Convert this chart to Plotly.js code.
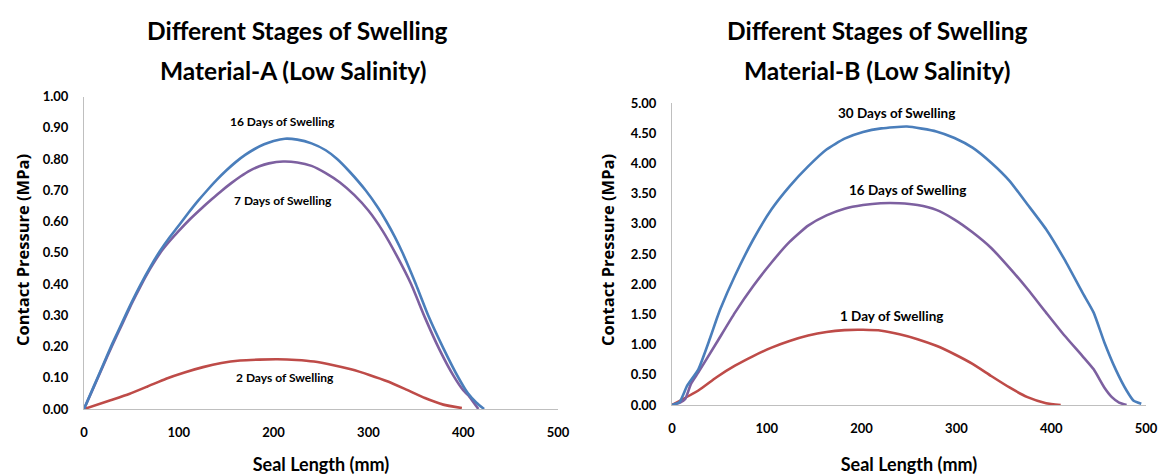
<!DOCTYPE html>
<html>
<head>
<meta charset="utf-8">
<script src="https://cdn.plot.ly/plotly-3.0.1.min.js"></script>
<style>
html,body{margin:0;padding:0;background:#fff;}
#chart{width:1161px;height:475px;}
</style>
</head>
<body>
<div id="chart"></div>
<script>
// ---------- Data: Material-A ----------
const a16x = [0, 10, 20, 30, 40, 50, 60, 70, 80, 90, 100, 110, 120, 130, 140, 150, 160, 170, 180, 190, 200, 212, 225, 240, 255, 267, 280, 297, 310, 319, 328, 336, 350, 363, 379, 395, 405, 414, 422];
const a16y = [0, 0.07, 0.14, 0.21, 0.275, 0.34, 0.40, 0.455, 0.505, 0.548, 0.587, 0.627, 0.665, 0.70, 0.733, 0.763, 0.79, 0.813, 0.832, 0.847, 0.858, 0.865, 0.862, 0.85, 0.828, 0.80, 0.76, 0.70, 0.645, 0.60, 0.55, 0.50, 0.40, 0.30, 0.195, 0.10, 0.05, 0.02, 0];
const a7x = [0, 10, 20, 30, 40, 50, 60, 70, 80, 90, 100, 112, 125, 135, 145, 155, 165, 175, 185, 195, 210, 225, 240, 255, 270, 285, 300, 315, 330, 345, 360, 375, 390, 400, 405, 410, 416];
const a7y = [0, 0.068, 0.137, 0.205, 0.27, 0.335, 0.395, 0.45, 0.498, 0.536, 0.57, 0.608, 0.645, 0.672, 0.698, 0.722, 0.744, 0.763, 0.777, 0.786, 0.792, 0.789, 0.778, 0.755, 0.725, 0.685, 0.635, 0.57, 0.49, 0.40, 0.29, 0.19, 0.105, 0.06, 0.045, 0.025, 0];
const a2x = [0, 28, 47.6, 67, 86.6, 106, 125.6, 145, 164.6, 185, 204, 224, 242.6, 262, 281.6, 301, 320.6, 340, 359.6, 379, 398.6];
const a2y = [0, 0.028, 0.048, 0.072, 0.097, 0.117, 0.134, 0.147, 0.155, 0.158, 0.159, 0.157, 0.152, 0.141, 0.127, 0.109, 0.088, 0.062, 0.035, 0.014, 0.003];

// ---------- Data: Material-B ----------
const b30x = [0, 8, 16, 27.8, 40, 47, 51, 66.4, 85.7, 105, 124, 143.6, 163, 182, 201.5, 220.8, 247.9, 278.8, 298, 317, 336.7, 356, 375, 394.6, 414, 433, 444.8, 456, 468, 479.5, 487, 495];
const b30y = [0, 0.05, 0.32, 0.59, 1.1, 1.42, 1.59, 2.14, 2.74, 3.24, 3.62, 3.95, 4.23, 4.41, 4.52, 4.58, 4.61, 4.53, 4.42, 4.26, 4.01, 3.71, 3.32, 2.91, 2.41, 1.86, 1.53, 1.04, 0.59, 0.24, 0.07, 0.02];
const b16x = [0, 8.5, 14, 20, 27.8, 47, 66.4, 85.7, 105, 124, 143.6, 163, 182, 201.5, 220, 240, 259, 278.8, 298, 317, 336.7, 356, 375, 394.6, 414, 433, 444.8, 456, 464, 471.6, 479.5];
const b16y = [0, 0.04, 0.1, 0.35, 0.54, 1.03, 1.53, 1.97, 2.36, 2.70, 2.97, 3.14, 3.25, 3.31, 3.34, 3.34, 3.31, 3.23, 3.07, 2.86, 2.60, 2.27, 1.92, 1.53, 1.15, 0.81, 0.59, 0.29, 0.13, 0.04, 0];
const b1x = [0, 27.8, 47, 66.4, 85.7, 105, 124, 143.6, 163, 182, 201.5, 221, 240, 259, 278.8, 298, 317, 336.7, 356, 375, 394.6, 410];
const b1y = [0, 0.24, 0.46, 0.65, 0.81, 0.95, 1.06, 1.15, 1.21, 1.24, 1.245, 1.23, 1.17, 1.09, 0.98, 0.84, 0.68, 0.48, 0.29, 0.13, 0.03, 0];

// ---------- Labels ----------
const titleLine1 = "Different Stages of Swelling";
const titleA2 = "Material-A (Low Salinity)";
const titleB2 = "Material-B (Low Salinity)";
const xTitle = "Seal Length (mm)";
const yTitle = "Contact Pressure (MPa)";
const xTicks = [0, 100, 200, 300, 400, 500];
const yTicksA = [0, 0.1, 0.2, 0.3, 0.4, 0.5, 0.6, 0.7, 0.8, 0.9, 1.0];
const yTicksB = [0, 0.5, 1, 1.5, 2, 2.5, 3, 3.5, 4, 4.5, 5];
const labelsA = ["16 Days of Swelling", "7 Days of Swelling", "2 Days of Swelling"];
const labelsAx = [209, 210, 212];
const labelsAy = [0.92, 0.668, 0.102];
const labelsB = ["30 Days of Swelling", "16 Days of Swelling", "1 Day of Swelling"];
const labelsBx = [237, 248, 232];
const labelsBy = [4.83, 3.56, 1.47];

const BLUE = "#4A7EBB", PURPLE = "#7D60A0", RED = "#BE4B48";
const FONT = "Lato, 'Open Sans', sans-serif";
const W = 1161, H = 475;

function tr(x, y, c, xa, ya) {
  return {x: x, y: y, type: "scatter", mode: "lines", xaxis: xa, yaxis: ya,
    line: {color: c, width: 2.6, shape: "spline", smoothing: 0.5}, hoverinfo: "skip", showlegend: false};
}

const data = [
  tr(a2x, a2y, RED, "x", "y"),
  tr(a7x, a7y, PURPLE, "x", "y"),
  tr(a16x, a16y, BLUE, "x", "y"),
  tr(b1x, b1y, RED, "x2", "y2"),
  tr(b16x, b16y, PURPLE, "x2", "y2"),
  tr(b30x, b30y, BLUE, "x2", "y2")
];

const axX = {
  range: [0, 500], tickvals: xTicks, showgrid: false, zeroline: false,
  showline: true, linecolor: "#BFBFBF", linewidth: 1, ticks: "",
  tickfont: {family: FONT, size: 13, color: "#000", weight: "bold"}, ticklabelstandoff: 11,
  title: {text: xTitle, font: {family: FONT, size: 18, color: "#000", weight: "bold"}, standoff: 24}
};
const axY = {
  showgrid: false, zeroline: false, showline: true, linecolor: "#BFBFBF", linewidth: 1, ticks: "",
  tickfont: {family: FONT, size: 13, color: "#000", weight: "bold"}, ticklabelstandoff: 12,
  tickformat: ".2f"
};

const annotations = [];
labelsA.forEach((t, i) => annotations.push({x: labelsAx[i], y: labelsAy[i], xref: "x", yref: "y", text: t, showarrow: false,
  font: {family: FONT, size: 12, color: "#000", weight: "bold"}}));
labelsB.forEach((t, i) => annotations.push({x: labelsBx[i], y: labelsBy[i], xref: "x2", yref: "y2", text: t, showarrow: false,
  font: {family: FONT, size: 13.5, color: "#000", weight: "bold"}}));

function paperText(text, px, py, size, fam, angle) {
  annotations.push({x: px / W, y: 1 - py / H, xref: "paper", yref: "paper", xanchor: "center", yanchor: "middle",
    text: text, showarrow: false, textangle: angle || 0,
    font: {family: fam, size: size, color: "#000", weight: "bold"}});
}
paperText(titleLine1, 297, 31, 24.5, FONT);
paperText(titleA2, 293, 70, 24.5, FONT);
paperText(titleLine1, 877, 31, 24.5, FONT);
paperText(titleB2, 877, 70, 24.5, FONT);
paperText(yTitle, 22, 250, 16.5, "'Open Sans', sans-serif", -90);
paperText(yTitle, 607, 250, 16.5, "'Open Sans', sans-serif", -90);

const layout = {
  width: W, height: H, margin: {l: 0, r: 0, t: 0, b: 0},
  paper_bgcolor: "#fff", plot_bgcolor: "#fff",
  xaxis: Object.assign({}, axX, {domain: [84 / W, 558 / W], anchor: "y"}),
  yaxis: Object.assign({}, axY, {domain: [1 - 409 / H, 1 - 96.5 / H], range: [0, 1], tickvals: yTicksA, anchor: "x"}),
  xaxis2: Object.assign({}, axX, {domain: [672 / W, 1146 / W], anchor: "y2"}),
  yaxis2: Object.assign({}, axY, {domain: [1 - 405 / H, 1 - 103 / H], range: [0, 5], tickvals: yTicksB, anchor: "x2"}),
  annotations: annotations,
  showlegend: false
};

Plotly.newPlot("chart", data, layout, {staticPlot: true, displayModeBar: false});
</script>
</body>
</html>
